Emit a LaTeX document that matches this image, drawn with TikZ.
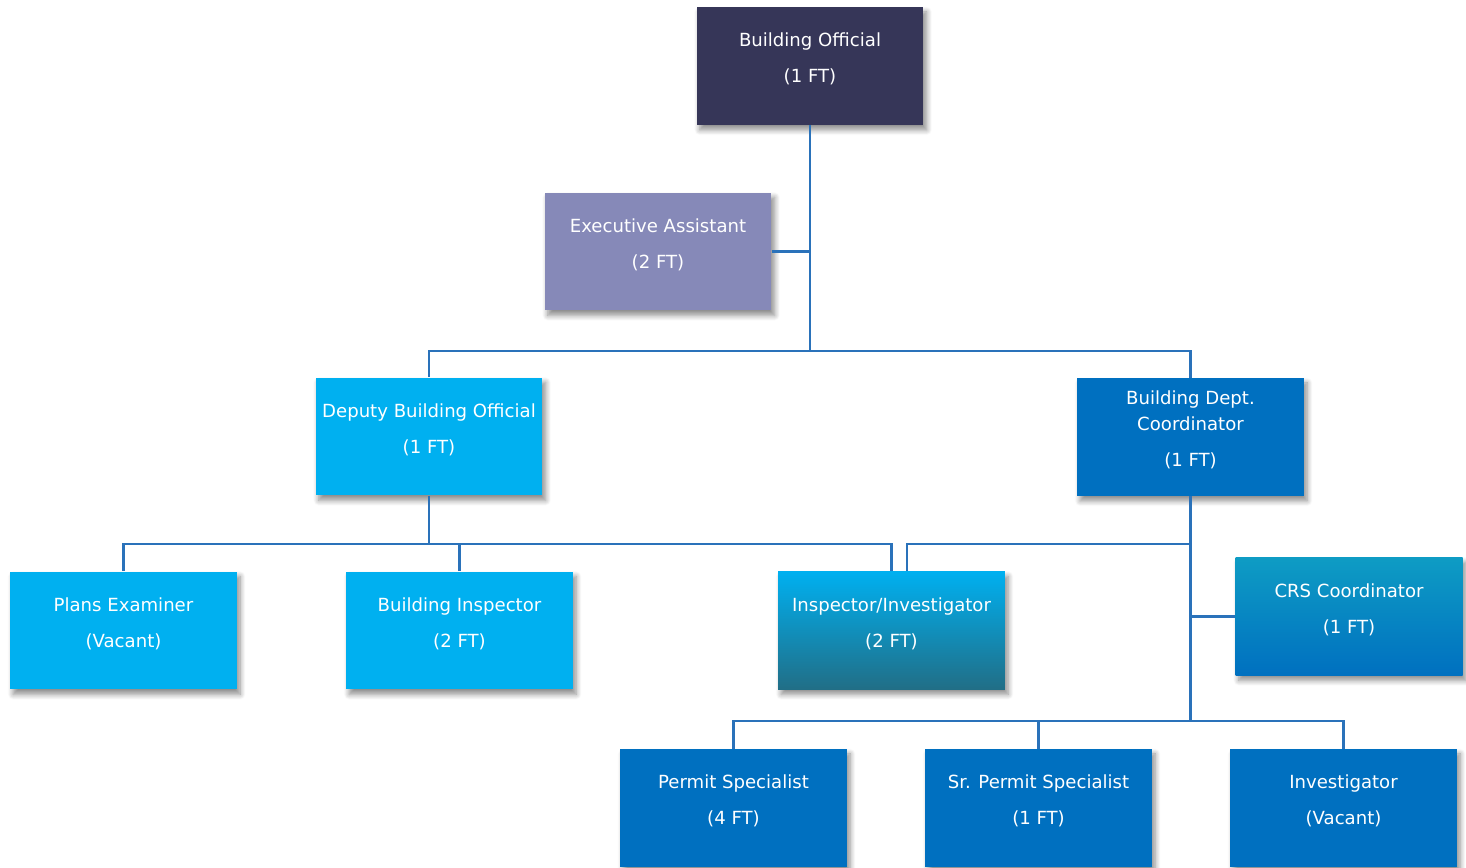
\documentclass[tikz,border=0pt]{standalone}
\usepackage{fontspec}
\setmainfont{DejaVu Sans}
\usepackage{xcolor}
\usepackage{tikz}
\usetikzlibrary{calc, shadows.blur}

\definecolor{navy}{HTML}{363658}
\definecolor{lavender}{HTML}{8689B8}
\definecolor{cyanbox}{HTML}{00B0F0}
\definecolor{bluebox}{HTML}{0070C0}
\definecolor{tealdark}{HTML}{216E86}
\definecolor{crstop}{HTML}{0E9CC4}
\definecolor{linkblue}{HTML}{2A72BA}

\begin{document}
\begin{tikzpicture}[
    x=0.02cm, y=-0.02cm,
    box/.style={rectangle, minimum width=4.54cm, minimum height=2.36cm,
                inner sep=0pt,
                blur shadow={shadow xshift=1.8pt, shadow yshift=-2.8pt,
                             shadow blur steps=8, shadow blur radius=3pt,
                             shadow opacity=45}},
    lbl/.style={text=white, align=center, inner sep=0pt,
                font=\fontsize{10.3}{14.7}\selectfont},
    link/.style={draw=linkblue, line width=1.4pt}
  ]
    \useasboundingbox (0,0) rectangle (1466,868);

    % boxes
    \node[box, fill=navy]     (bo)  at (810,66)     {};
    \node[box, fill=lavender] (ea)  at (658,251.5)  {};
    \node[box, fill=cyanbox]  (dbo) at (429,436.5)  {};
    \node[box, fill=bluebox]  (bdc) at (1190.5,437) {};
    \node[box, fill=cyanbox]  (pe)  at (123.5,630.5) {};
    \node[box, fill=cyanbox]  (bi)  at (459.5,630.5) {};
    \node[box, top color=cyanbox, bottom color=tealdark] (ii) at (891.5,630.5) {};
    \node[box, top color=crstop, bottom color=bluebox]   (crs) at (1349,616.5) {};
    \node[box, fill=bluebox]  (ps)  at (733.5,808)  {};
    \node[box, fill=bluebox]  (sps) at (1038.5,808) {};
    \node[box, fill=bluebox]  (inv) at (1343.5,808) {};

    % texts
    \node[lbl] (bo-t)  at ($(bo)+(0,-7)$)  {Building Official\\[5.7pt](1 FT)};
    \node[lbl] (ea-t)  at ($(ea)+(0,-7)$)  {Executive Assistant\\[5.7pt](2 FT)};
    \node[lbl] (dbo-t) at ($(dbo)+(0,-7)$) {Deputy Building Official\\[5.7pt](1 FT)};
    \node[lbl] (bdc-t) at ($(bdc)+(0,-7)$) {Building Dept.\\Coordinator\\[5.7pt](1 FT)};
    \node[lbl] (pe-t)  at ($(pe)+(0,-7)$)  {Plans Examiner\\[5.7pt](Vacant)};
    \node[lbl] (bi-t)  at ($(bi)+(0,-7)$)  {Building Inspector\\[5.7pt](2 FT)};
    \node[lbl] (ii-t)  at ($(ii)+(0,-7)$)  {Inspector/Investigator\\[5.7pt](2 FT)};
    \node[lbl] (crs-t) at ($(crs)+(0,-7)$) {CRS Coordinator\\[5.7pt](1 FT)};
    \node[lbl] (ps-t)  at ($(ps)+(0,-7)$)  {Permit Specialist\\[5.7pt](4 FT)};
    \node[lbl] (sps-t) at ($(sps)+(0,-7)$) {Sr. Permit Specialist\\[5.7pt](1 FT)};
    \node[lbl] (inv-t) at ($(inv)+(0,-7)$) {Investigator\\[5.7pt](Vacant)};

    % bus points
    \coordinate (bus1) at (810,351);
    \coordinate (bus2) at (429,544);
    \coordinate (bus3) at (1190.5,544);
    \coordinate (bus4) at (1190.5,721);
    \coordinate (ii-r) at ($(ii.north)+(15.5,0)$);

    % connectors
    \draw[link] (bo.south) -- (bus1);
    \draw[link] (ea.east) -- (ea.east -| bo.south);
    \draw[link] (dbo.north) |- (bus1) -| (bdc.north);
    \draw[link] (dbo.south) -- (bus2);
    \draw[link] (pe.north) |- (bus2) -| (ii.north);
    \draw[link] (bi.north) -- (bi.north |- bus2);
    \draw[link] (bdc.south) -- (bus4);
    \draw[link] (bus3) -| (ii-r);
    \draw[link] (crs.west) -- (crs.west -| bdc.south);
    \draw[link] (ps.north) |- (bus4) -| (inv.north);
    \draw[link] (sps.north) -- (sps.north |- bus4);
\end{tikzpicture}
\end{document}
